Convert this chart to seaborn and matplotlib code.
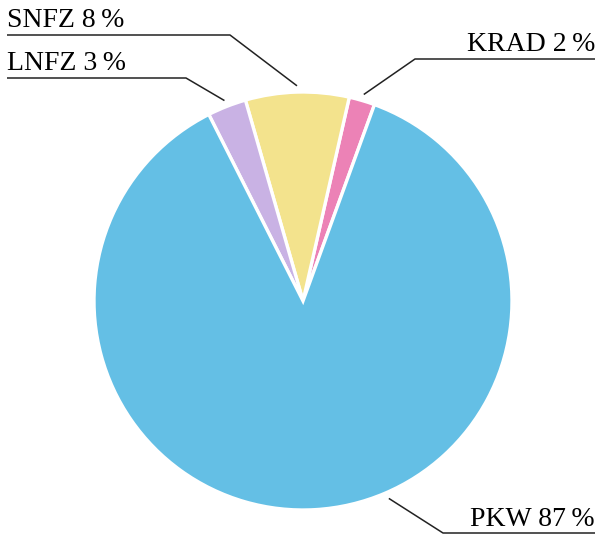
import numpy as np
import matplotlib
matplotlib.use("Agg")
import matplotlib.pyplot as plt
import seaborn as sns

# data, counter-clockwise starting from KRAD
labels = ["KRAD", "SNFZ", "LNFZ", "PKW"]
shares = [2, 8, 3, 87]
colors = ["#EC82B6", "#F3E38D", "#C9B2E4", "#64BFE5"]

# label placement (pixels in the 599x535 image): text anchor, corner of leader, side
text_pos = {"KRAD": (595, 51), "SNFZ": (7, 27), "LNFZ": (7, 70), "PKW": (595, 526)}
corner_pos = {"KRAD": (415, 59), "SNFZ": (230, 35), "LNFZ": (186, 78), "PKW": (443, 533)}
line_end = {"KRAD": 595, "SNFZ": 7, "LNFZ": 7, "PKW": 595}
pkw_anchor_angle = -66.5

sns.set_theme(style="white")
plt.rcParams['font.family'] = ['Liberation Serif', 'DejaVu Serif']

W, H = 599, 535
CX, CY, R = 303, 301, 209

fig = plt.figure(figsize=(W / 100, H / 100), dpi=100)
ax = fig.add_axes([0, 0, 1, 1])


def px(x, y):
    return (x - CX) / R, (CY - y) / R


wedges, _ = ax.pie(shares, colors=colors, startangle=70, counterclock=True,
                   wedgeprops=dict(edgecolor="white", linewidth=2.4))

for w, lab, val in zip(wedges, labels, shares):
    ang = (w.theta1 + w.theta2) / 2
    if lab == "PKW":
        ang = pkw_anchor_angle
    a = np.deg2rad(ang)
    ax_, ay_ = 1.03 * np.cos(a), 1.03 * np.sin(a)
    cx_, cy_ = px(*corner_pos[lab])
    ex_, _ = px(line_end[lab], corner_pos[lab][1])
    ax.plot([ax_, cx_, ex_], [ay_, cy_, cy_], color="#222222", lw=1.1,
            solid_capstyle="butt")
    tx, ty = px(*text_pos[lab])
    ha = "left" if line_end[lab] < CX else "right"
    ax.text(tx, ty, f"{lab} {val}\u2009%", ha=ha, va="baseline",
            fontsize=20, color="black")

ax.set_xlim(-CX / R, (W - CX) / R)
ax.set_ylim(-(H - CY) / R, CY / R)
ax.set_aspect("equal")
ax.axis("off")

fig.savefig("out.png", dpi=100, facecolor="white")
